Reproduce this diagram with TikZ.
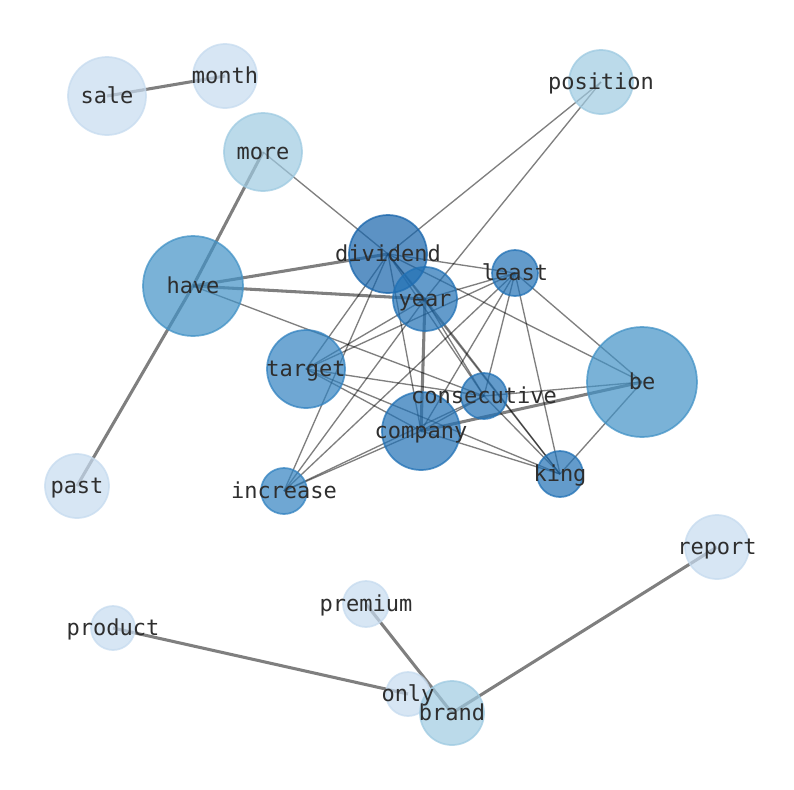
\documentclass[tikz,border=0pt]{standalone}
\usepackage{fontspec}
\newfontfamily\monofont{DejaVu Sans Mono}
\pgfdeclarelayer{edges}
\pgfdeclarelayer{labels}
\pgfsetlayers{edges,main,labels}
\definecolor{cA}{HTML}{C6DBEF}
\definecolor{cB}{HTML}{9ECAE1}
\definecolor{cC}{HTML}{4292C6}
\definecolor{cD}{HTML}{3282C0}
\definecolor{cE}{HTML}{2171B5}
\definecolor{cF}{HTML}{1764AB}
\definecolor{txt}{HTML}{2E2E2E}
\tikzset{
  bub/.style 2 args={circle, inner sep=0pt, outer sep=0pt, minimum size={#2*1.5pt},
    fill=#1, draw=#1, fill opacity=0.7, draw opacity=0.75, line width=1.3pt},
  lbl/.style={font=\monofont\fontsize{16.5}{18}\selectfont, text=txt, inner sep=0pt,
    text height=13pt, text depth=1.5pt},
  ed/.style={draw=black, draw opacity=0.5, line width=1pt},
  edt/.style={draw=black, draw opacity=0.5, line width=2.3pt},
}
\begin{document}
\begin{tikzpicture}[x=0.75pt,y=-0.75pt]
\useasboundingbox (0,0) rectangle (794,790);
% nodes
\node[bub={cA}{39}] (sale) at (107,96) {};
\node[bub={cA}{32}] (month) at (225,76) {};
\node[bub={cB}{39}] (more) at (263,152) {};
\node[bub={cB}{32}] (position) at (601,82) {};
\node[bub={cC}{50}] (have) at (193,286) {};
\node[bub={cF}{39}] (dividend) at (388,254) {};
\node[bub={cE}{23}] (least) at (515,273) {};
\node[bub={cE}{32}] (year) at (425,299) {};
\node[bub={cD}{39}] (target) at (306,369) {};
\node[bub={cC}{55}] (be) at (642,382) {};
\node[bub={cE}{23}] (consecutive) at (484,396) {};
\node[bub={cE}{39}] (company) at (421,431) {};
\node[bub={cE}{23}] (king) at (560,474) {};
\node[bub={cD}{23}] (increase) at (284,491) {};
\node[bub={cA}{32}] (past) at (77,486) {};
\node[bub={cA}{32}] (report) at (717,547) {};
\node[bub={cA}{23}] (premium) at (366,604) {};
\node[bub={cA}{22}] (product) at (113,628) {};
\node[bub={cA}{22}] (only) at (408,694) {};
\node[bub={cB}{32}] (brand) at (452,713) {};
% edges
\begin{pgfonlayer}{edges}
\draw[edt] (sale.center) -- (month.center);
\draw[edt] (more.center) -- (have.center);
\draw[edt] (have.center) -- (past.center);
\draw[edt] (have.center) -- (dividend.center);
\draw[edt] (have.center) -- (year.center);
\draw[edt] (year.center) -- (company.center);
\draw[edt] (company.center) -- (be.center);
\draw[edt] (product.center) -- (only.center);
\draw[edt] (premium.center) -- (brand.center);
\draw[edt] (report.center) -- (brand.center);
\foreach \a/\b in {have/consecutive, more/dividend, position/dividend, position/year,
  dividend/year, dividend/least, dividend/target, dividend/increase, dividend/company,
  dividend/consecutive, dividend/king, dividend/be,
  year/least, year/target, year/increase, year/consecutive, year/king,
  least/target, least/increase, least/company, least/consecutive, least/king, least/be,
  target/consecutive, target/company, target/king,
  company/increase, consecutive/increase, company/consecutive, company/king,
  consecutive/be, consecutive/king, be/king}
  \draw[ed] (\a.center) -- (\b.center);
\end{pgfonlayer}
% labels
\begin{pgfonlayer}{labels}
\foreach \n in {sale,month,more,position,have,dividend,least,year,target,be,
  consecutive,company,king,increase,past,report,premium,product,only,brand}
  \node[lbl] (l-\n) at (\n.center) {\n};
\end{pgfonlayer}
\end{tikzpicture}
\end{document}
